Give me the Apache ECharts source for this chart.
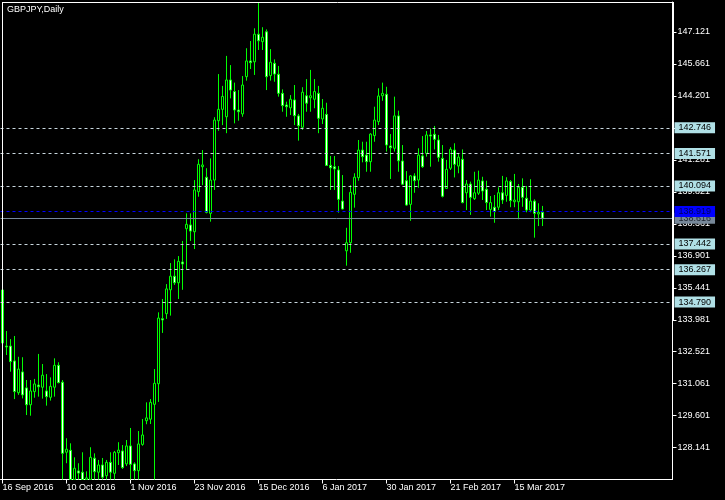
<!DOCTYPE html>
<html><head><meta charset="utf-8">
<script src="https://cdn.jsdelivr.net/npm/echarts@6/dist/echarts.min.js"></script>
<style>html,body{margin:0;padding:0;background:#000;}#c{width:725px;height:500px;}</style>
</head><body><div id="c"></div>
<script>
const symbolTitle = 'GBPJPY,Daily';
const firstDate = '2016-09-16';
const totalSlots = 168;
const labelEvery = 16;

const opens = [135.34,132.78,132.78,132.10,130.65,131.60,130.87,130.10,130.70,131.00,130.90,130.73,130.44,130.90,131.90,131.13,127.93,128.02,126.39,127.08,127.02,126.48,126.57,127.66,127.02,127.35,126.86,127.47,126.97,127.91,127.99,127.40,128.22,127.40,127.09,128.29,129.37,129.44,130.12,131.06,134.03,134.26,135.35,135.97,135.67,136.62,138.14,138.31,138.00,139.83,140.97,140.49,138.84,140.36,143.07,143.59,143.25,144.93,144.40,143.56,143.38,145.08,145.80,145.76,147.02,146.68,147.13,145.13,145.69,145.19,144.32,143.79,143.66,144.02,143.29,142.77,144.21,144.12,144.05,144.32,143.15,143.36,141.03,140.97,140.82,139.40,137.13,137.50,139.71,140.47,141.73,141.50,141.20,142.39,143.03,144.21,144.28,141.92,141.81,143.29,141.23,140.33,139.25,140.55,140.36,141.46,141.58,142.42,142.45,142.19,141.35,139.98,140.90,141.73,141.00,141.31,139.78,140.18,139.51,139.76,140.32,139.94,139.02,139.12,139.12,139.78,139.66,140.29,139.37,139.37,140.03,139.53,138.99,139.40,138.81,138.89];
const highs = [136.34,133.47,133.10,133.24,132.29,132.27,131.23,131.23,131.28,132.42,131.96,131.50,131.35,132.22,132.04,131.23,128.57,128.34,127.70,127.43,127.93,127.06,128.16,127.88,127.58,127.67,127.58,127.93,127.99,128.39,128.26,128.49,129.04,127.47,128.90,129.45,130.21,130.36,131.73,134.32,134.93,135.61,136.57,136.74,136.89,137.58,138.84,138.84,140.36,141.31,141.73,140.90,141.35,143.23,145.20,144.66,146.03,145.61,144.81,144.47,145.11,146.38,146.71,147.29,148.46,147.34,147.24,146.34,145.87,145.57,144.50,143.94,144.24,144.70,143.38,144.60,144.97,145.39,144.97,144.66,144.06,143.89,141.46,141.46,141.00,140.59,138.18,140.13,140.67,142.19,142.11,142.11,142.50,143.71,144.55,144.81,144.62,142.46,144.17,143.53,141.96,140.77,140.59,140.67,141.81,142.37,142.60,142.72,142.83,142.42,141.96,141.28,141.86,142.04,141.58,141.76,140.36,140.29,140.74,140.79,140.51,140.33,139.63,139.68,140.03,140.55,140.49,140.36,140.64,140.18,140.44,140.09,140.40,139.48,139.30,139.18];
const lows = [132.83,132.37,131.61,130.36,130.55,130.39,129.63,129.60,130.42,130.47,130.38,130.06,130.29,130.47,131.08,122.00,127.43,125.98,126.12,126.44,126.21,126.21,126.30,126.57,126.53,126.48,126.44,126.53,126.57,127.35,127.17,127.30,126.40,126.50,126.50,128.23,129.21,129.22,125.50,130.23,133.38,134.02,134.17,135.57,134.93,135.35,136.25,137.58,137.21,139.60,140.13,138.84,138.46,139.91,142.61,142.87,142.50,144.09,142.95,143.07,143.25,144.90,145.43,145.16,146.30,146.30,144.47,144.90,144.85,144.17,143.48,143.25,143.33,142.87,142.16,142.65,143.48,143.48,143.64,142.50,142.92,141.00,139.91,139.91,138.87,139.02,136.45,137.04,139.10,140.33,141.17,140.74,140.74,142.11,142.87,143.98,141.66,140.41,141.66,140.74,140.13,139.19,138.50,139.78,140.01,140.92,141.43,140.97,141.76,141.20,139.57,139.95,140.82,140.48,140.67,139.30,138.99,138.77,139.45,139.68,139.45,138.99,138.69,138.41,138.99,139.27,139.37,139.12,139.12,138.57,139.14,138.89,138.89,137.73,138.26,138.26];
const closes = [132.92,132.74,132.07,130.70,131.73,130.55,130.10,130.73,131.05,130.92,131.45,130.47,130.94,131.90,131.11,127.88,128.07,126.39,127.20,126.98,126.48,126.76,127.70,127.04,127.35,126.79,127.47,127.02,127.93,128.03,127.23,128.22,127.38,127.09,128.31,128.72,129.50,130.21,131.08,134.06,133.97,135.39,135.97,135.67,136.65,136.53,138.34,138.03,139.91,141.08,141.05,138.89,140.36,143.10,143.59,144.18,144.93,144.47,143.56,143.48,144.70,145.80,145.72,147.02,146.72,146.88,145.08,145.74,145.20,144.32,143.76,143.71,144.05,143.30,142.84,144.37,143.87,144.21,144.40,143.18,143.64,141.03,140.92,140.87,139.48,139.04,137.50,139.80,140.49,141.73,141.43,141.20,142.46,143.10,144.20,144.32,141.96,141.84,143.29,141.24,140.17,139.22,140.55,140.33,141.50,140.97,142.42,142.37,142.22,141.40,139.62,140.85,141.76,141.08,141.41,139.33,140.18,139.57,139.78,140.36,139.86,139.33,139.33,138.92,139.78,139.45,140.32,139.42,139.45,140.03,139.57,138.99,139.40,138.84,138.89,138.616];

const levelLines = [142.746, 141.571, 140.094, 137.442, 136.267, 134.790];
const bidPrice = 138.616;
const askPrice = 138.919;
const priceTicks = [128.141,129.601,131.061,132.521,133.981,135.441,136.901,138.361,139.821,141.281,142.741,144.201,145.661,147.121];
const priceMin = 126.687, priceMax = 148.491;

const monthNames = ['Jan','Feb','Mar','Apr','May','Jun','Jul','Aug','Sep','Oct','Nov','Dec'];
function tradingDays(start, n) {
  const out = [];
  const d = new Date(start + 'T00:00:00Z');
  while (out.length < n) {
    const wd = d.getUTCDay();
    if (wd !== 0 && wd !== 6) out.push(d.getUTCDate() + ' ' + monthNames[d.getUTCMonth()] + ' ' + d.getUTCFullYear());
    d.setUTCDate(d.getUTCDate() + 1);
  }
  return out;
}
const dates = tradingDays(firstDate, totalSlots);
const lastBar = opens.length - 1;
// the plot clips at the bottom of the price window, like the terminal does
const clipLow = v => Math.max(v, priceMin);
const candleData = opens.map((o, i) => [clipLow(o), clipLow(closes[i]), clipLow(lows[i]), clipLow(highs[i])]);

const FONT = 'Liberation Sans, Arial, sans-serif';
const showDate = (i) => i % labelEvery === 0 && i <= lastBar;

const chart = echarts.init(document.getElementById('c'), null, {renderer: 'canvas', width: 725, height: 500});
chart.setOption({
  backgroundColor: '#000000',
  animation: false,
  title: {text: symbolTitle, left: 7, top: 5, padding: 0,
    textStyle: {color: '#ffffff', fontSize: 9, fontWeight: 'normal', fontFamily: FONT}},
  grid: {left: 0.5, right: 52.5, top: 2, bottom: 20.5, containLabel: false, outerBoundsMode: 'none'},
  xAxis: {
    type: 'category', data: dates, boundaryGap: true,
    axisLine: {show: true, onZero: false, lineStyle: {color: '#ffffff', width: 1}},
    axisTick: {show: true, alignWithLabel: true, length: 4, interval: showDate, lineStyle: {color: '#ffffff'}},
    axisLabel: {show: true, interval: showDate, align: 'left', color: '#ffffff', fontSize: 9, fontFamily: FONT, margin: 4},
    splitLine: {show: false}
  },
  yAxis: {
    type: 'value', position: 'right', min: priceMin, max: priceMax, scale: true,
    axisLine: {show: true, lineStyle: {color: '#ffffff', width: 1}},
    axisTick: {show: true, length: 4, customValues: priceTicks, lineStyle: {color: '#ffffff'}},
    axisLabel: {show: true, customValues: priceTicks, formatter: v => v.toFixed(3), color: '#ffffff', fontSize: 9, fontFamily: FONT, margin: 5},
    splitLine: {show: false}
  },
  series: [{
    type: 'candlestick',
    data: candleData,
    barWidth: 2,
    clip: true,
    itemStyle: {color: '#000000', color0: '#ffffff', borderColor: '#00ff00', borderColor0: '#00ff00', borderColorDoji: '#00ff00', borderWidth: 1},
    markLine: {
      silent: true, symbol: ['none', 'none'], animation: false, precision: 3,
      label: {show: true, position: 'end', distance: 2, formatter: p => Number(p.value).toFixed(3),
        fontSize: 9, fontFamily: FONT, padding: [1, 4, 1, 4], lineHeight: 9},
      data: [
        ...levelLines.map(v => ({yAxis: v,
          lineStyle: {color: '#c8d6de', type: [3, 3], width: 1},
          label: {backgroundColor: '#b0e0e6', color: '#000000'}})),
        {yAxis: bidPrice, lineStyle: {color: '#778899', type: 'solid', width: 1},
          label: {backgroundColor: '#778899', color: '#1c2430'}},
        {yAxis: askPrice, lineStyle: {color: '#0000ff', type: [3, 3], width: 1},
          label: {backgroundColor: '#0000ff', color: '#00005a'}}
      ]
    }
  }],
  graphic: [
    {type: 'line', silent: true, z: 100, shape: {x1: 2.5, y1: 2, x2: 2.5, y2: 480}, style: {stroke: '#ffffff', lineWidth: 1}},
    {type: 'line', silent: true, z: 100, shape: {x1: 2, y1: 2.5, x2: 673, y2: 2.5}, style: {stroke: '#ffffff', lineWidth: 1}},
    {type: 'rect', silent: true, z: 100, shape: {x: 672, y: 2, width: 2, height: 318}, style: {fill: '#ffffff'}}
  ]
});
</script>
</body></html>
